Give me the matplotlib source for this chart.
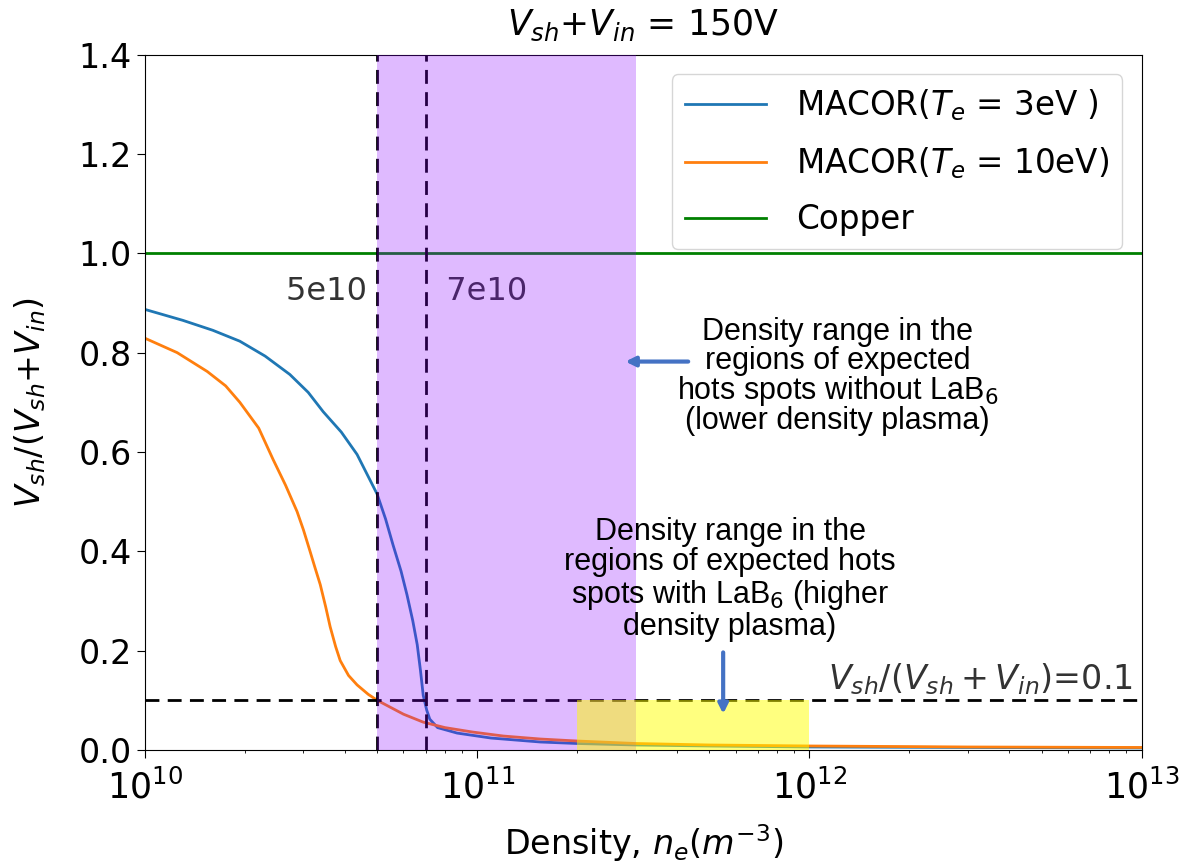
"""
Sheath voltage fraction vs plasma density for MACOR and copper.
"""

import matplotlib

matplotlib.use("Agg")
import matplotlib.pyplot as plt

# MACOR, Te = 3 eV
dens_3ev = [1e10, 1.3e10, 1.6e10, 1.93e10, 2.3e10, 2.73e10, 3.1e10, 3.44e10,
            3.9e10, 4.35e10, 5e10, 5.3e10, 5.58e10, 5.9e10, 6.15e10, 6.4e10,
            6.6e10, 6.75e10, 6.88e10, 7.05e10, 7.2e10, 7.6e10, 8.7e10, 1.1e11,
            1.55e11, 2e11, 3e11, 5e11, 1e12, 3e12, 1e13]
frac_3ev = [0.887, 0.865, 0.845, 0.823, 0.793, 0.756, 0.72, 0.681,
            0.64, 0.595, 0.515, 0.465, 0.413, 0.36, 0.312, 0.26,
            0.212, 0.16, 0.11, 0.08, 0.062, 0.045, 0.034, 0.024,
            0.016, 0.013, 0.010, 0.008, 0.006, 0.005, 0.004]

# MACOR, Te = 10 eV
dens_10ev = [1e10, 1.25e10, 1.54e10, 1.75e10, 1.93e10, 2.2e10, 2.43e10, 2.65e10,
             2.87e10, 3.0e10, 3.14e10, 3.25e10, 3.37e10, 3.5e10, 3.61e10, 3.75e10,
             3.87e10, 4.1e10, 4.35e10, 4.7e10, 5e10, 6e10, 6.88e10, 8e10, 9.7e10,
             1.2e11, 1.55e11, 2e11, 3e11, 5e11, 1e12, 3e12, 1e13]
frac_10ev = [0.829, 0.80, 0.762, 0.733, 0.70, 0.648, 0.585, 0.533,
             0.48, 0.443, 0.40, 0.367, 0.333, 0.288, 0.248, 0.208,
             0.18, 0.150, 0.131, 0.112, 0.10, 0.072, 0.056, 0.045, 0.036,
             0.028, 0.022, 0.018, 0.013, 0.010, 0.008, 0.006, 0.005]

copper_frac = 1.0
threshold = 0.1
marks = [5e10, 7e10]
mark_labels = ["5e10", "7e10"]
low_range = (5e10, 3e11)
high_range = (2e11, 1e12)

label_3ev = r"MACOR($T_e$ = 3eV )"
label_10ev = r"MACOR($T_e$ = 10eV)"
label_cu = "Copper"

note_low = "Density range in the\nregions of expected\nhots spots without LaB$_6$\n(lower density plasma)"
note_high = "Density range in the\nregions of expected hots\nspots with LaB$_6$ (higher\ndensity plasma)"

plt.rcParams["font.size"] = 22
plt.rcParams["mathtext.fontset"] = "dejavusans"

fig = plt.figure(figsize=(11.88, 8.67), dpi=100)
ax = fig.add_axes([0.122, 0.135, 0.839, 0.802])

ax.semilogx(dens_3ev, frac_3ev, color="tab:blue", lw=2, label=label_3ev, zorder=2)
ax.semilogx(dens_10ev, frac_10ev, color="tab:orange", lw=2, label=label_10ev, zorder=2)
ax.axhline(copper_frac, color="green", lw=2, label=label_cu, zorder=2)

ax.axhline(threshold, color="black", lw=2, dashes=(5, 3), zorder=2)
for m in marks:
    ax.axvline(m, color="black", lw=2, dashes=(5, 3), zorder=2)

ax.text(marks[0], 0.923, mark_labels[0] + " ", ha="right", va="center",
        color="#333333", fontsize=23, zorder=2)
ax.text(marks[1], 0.923, "  " + mark_labels[1], ha="left", va="center",
        color="#333333", fontsize=23, zorder=2)
ax.text(0.991, 0.122, r"$V_{sh}/(V_{sh}+V_{in})$=0.1",
        transform=ax.get_yaxis_transform(), ha="right", va="baseline",
        color="#333333", fontsize=24)

ax.axvspan(*low_range, color="#8b00ff", alpha=0.27, lw=0, zorder=3)
ax.fill_between(high_range, 0, threshold, color="yellow", alpha=0.5, lw=0, zorder=3)

ax.set_xlim(1e10, 1e13)
ax.set_ylim(0, 1.4)
ax.set_yticks([0.0, 0.2, 0.4, 0.6, 0.8, 1.0, 1.2, 1.4])
ax.tick_params(axis="x", which="major", labelsize=25, pad=8, length=6)
ax.tick_params(axis="y", labelsize=24, length=6)
ax.set_xlabel(r"Density, $n_e(m^{-3})$", fontsize=24, labelpad=12)
ax.set_ylabel(r"$V_{sh}/(V_{sh}{+}V_{in})$", fontsize=24, labelpad=22)
ax.set_title(r"$V_{sh}{+}V_{in}$ = 150V", fontsize=25, pad=14)

ax.legend(loc="upper right", fontsize=23.5, handlelength=2.5, handletextpad=0.9,
          labelspacing=0.68, borderaxespad=0.6)

# slide-style callouts
ax.text(0.695, 0.537, note_low, transform=ax.transAxes, ha="center", va="center",
        family="Liberation Sans", fontsize=22, linespacing=0.92, zorder=6)
ax.annotate("", xy=(2.74e11, 0.782), xytext=(4.4e11, 0.782),
            arrowprops=dict(arrowstyle="-|>", color="#4472C4", lw=3,
                            mutation_scale=14), zorder=6)
ax.text(0.587, 0.245, note_high, transform=ax.transAxes, ha="center", va="center",
        family="Liberation Sans", fontsize=22, linespacing=1.02, zorder=6)
ax.annotate("", xy=(5.5e11, 0.067), xytext=(5.5e11, 0.202),
            arrowprops=dict(arrowstyle="-|>", color="#4472C4", lw=3,
                            mutation_scale=14), zorder=6)

fig.savefig("out.png")
